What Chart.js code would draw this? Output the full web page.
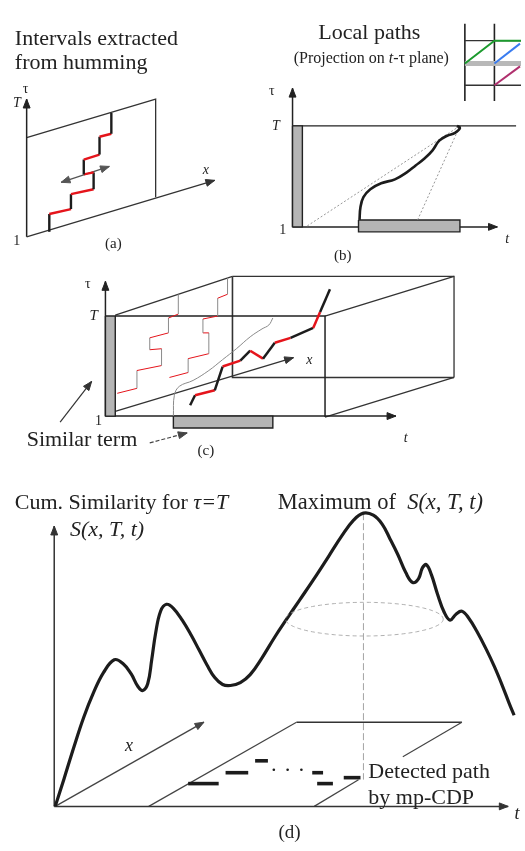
<!DOCTYPE html>
<html>
<head>
<meta charset="utf-8">
<script src="https://cdn.jsdelivr.net/npm/chart.js@4/dist/chart.umd.min.js"></script>
<style>
  html, body { margin: 0; padding: 0; background: #fff; }
  canvas { display: block; }
</style>
</head>
<body>
<canvas id="fig" width="525" height="851"></canvas>
<script>
// Diagram coordinates: x runs 0..525 to the right, y runs 0..851 downward.

// ---- (a) intervals extracted from humming ----
const aTauAxis   = [[23,235],[23,96]];
const aPlaneEdge = [[23,135],[154,96],[154,195]];
const aXAxis     = [[23,235],[214,178]];
const aStairs    = [[46,230],[46,212],[68,207],[68,192],[91,187],[91,170],[81,172],[81,157],[97,152],[97,134],[109,131],[109,110]];
const aShift     = [[58,180],[107,164]];

// ---- (b) local paths, projection on the t-tau plane ----
const bTauAxis  = [[293,225],[293,85]];
const bTimeAxis = [[293,225],[501,225]];
const bTLine    = [[293,123],[520,123]];
const bTauBar   = [[293,123],[303,123],[303,225],[293,225],[293,123]];
const bTermBar  = [[360,218],[463,218],[463,230],[360,230],[360,218]];
const bPath     = [[361,218],[362,205],[365,195],[372,187],[383,181],[397,177],[409,170],[418,163],[427,156],[435,148],[442,138],[450,133],[458,130],[463,125],[460,123]];
const bBound1   = [[308,224],[463,123]];
const bBound2   = [[420,218],[463,123]];
const gridV1    = [[468,20],[468,98]];
const gridV2    = [[498,20],[498,98]];
const gridH1    = [[468,37],[525,37]];
const gridH2    = [[468,60],[525,60]];
const gridH3    = [[468,82],[525,82]];
const pathGreen = [[468,60],[498,37],[525,37]];
const pathBlue  = [[498,60],[524,40]];
const pathPurple= [[498,82],[524,63]];

// ---- (c) similarity volume ----
const cTauAxis  = [[103,416],[103,280]];
const cTimeAxis = [[103,416],[398,416]];
const cTauBar   = [[103,315],[113,315],[113,416],[103,416],[103,315]];
const cFront    = [[113,315],[326,315],[326,417]];
const cTopSlant = [[113,314],[232,275]];
const cBackTop  = [[232,275],[457,275],[457,377]];
const cBackLeft = [[232,275],[232,377],[457,377]];
const cRightTop = [[326,315],[457,275]];
const cRightBot = [[326,417],[457,377]];
const cXAxis    = [[107,413],[294,357]];
const cTermBar  = [[172,416],[273,416],[273,428],[172,428],[172,416]];
const cProj     = [[172,416],[173,395],[178,386],[192,380],[208,370],[222,359],[236,348],[250,336],[262,328],[269,324],[273,317]];
const cStairsL  = [[115,393],[135,388],[135,370],[160,365],[160,348],[148,349],[148,337],[167,332],[167,317],[177,313],[177,293]];
const cStairsR  = [[168,377],[187,372],[187,358],[208,353],[208,332],[202,332],[202,318],[217,315],[217,297],[227,293],[227,276]];
const cPath     = [[189,405],[194,395],[214,390],[222,366],[240,360],[250,350],[263,358],[275,342],[291,337],[314,327],[321,311],[331,288]];
const cPtrBar   = [[57,422],[89,381]];
const cPtrTerm  = [[148,443],[186,433]];

// ---- (d) cumulative similarity for tau = T ----
const dYAxis    = [[51,810],[51,527]];
const dTAxis    = [[51,810],[512,810]];
const dXAxis    = [[52,810],[203,725]];
const dPlaneL   = [[147,810],[297,725]];
const dPlaneTop = [[297,725],[465,725]];
const dPlaneR1  = [[465,725],[405,760]];
const dPlaneR2  = [[360,783],[315,810]];
const dMaxLine  = [[365,514],[365,783]];
const dCurve    = [[52,810],[61,782],[71,750],[81,720],[91,695],[101,675],[112,662],[121,666],[129,676],[136,689],[141,693],[146,686],[150,662],[154,635],[159,613],[165,606],[172,610],[181,622],[190,637],[198,652],[206,667],[214,680],[222,687],[230,688],[240,685],[250,677],[262,660],[275,639],[287,621],[300,602],[317,577],[330,557],[343,537],[355,521],[365,514],[375,516],[384,525],[392,540],[400,556],[408,574],[415,584],[421,580],[425,569],[429,566],[434,576],[440,595],[447,614],[453,622],[459,616],[465,613],[472,620],[480,633],[490,652],[498,669],[506,688],[513,706],[518,718]];
const dDashes   = [[[187,787],[218,787]],[[225,776],[248,776]],[[255,764],[268,764]],[[313,776],[324,776]],[[318,787],[334,787]],[[345,781],[362,781]]];
const dDots     = [[274,773],[288,773],[302,773]];
const dRidge    = {cx:366, cy:621, rx:80, ry:17};

// ---- styles ----
const INK = '#1c1c1c', RED = '#e5141b', GREY = '#8a8a8a', BAR = '#b5b5b5';
const FONT = '"Liberation Serif", "Times New Roman", serif';

// segment colour strings: k = ink, r = red, g = grey
const strokes = [
  // (a)
  {pts:aPlaneEdge, color:'#333', width:1.3},
  {pts:aTauAxis, color:'#222', width:1.5, head:1},
  {pts:aXAxis, color:'#333', width:1.3, head:1},
  {pts:aShift, color:'#555', width:1.3, head:2},
  {pts:aStairs, width:2.4, seg:'krkrkrkrkrk'},
  // (b)
  {pts:gridV1, color:'#222', width:1.6},
  {pts:gridV2, color:'#222', width:1.6},
  {pts:gridH1, color:'#333', width:1.3},
  {pts:gridH2, color:'#b8b8b8', width:5},
  {pts:gridH3, color:'#333', width:1.3},
  {pts:pathGreen, color:'#1c9a2e', width:2},
  {pts:pathBlue, color:'#3a7cf0', width:2},
  {pts:pathPurple, color:'#b0306e', width:2},
  {pts:bTLine, color:'#222', width:1.4},
  {pts:bTimeAxis, color:'#222', width:1.5, head:1},
  {pts:bTauAxis, color:'#222', width:1.5, head:1},
  {pts:bTauBar, color:'#222', width:1.4, fill:BAR},
  {pts:bTermBar, color:'#222', width:1.4, fill:BAR},
  {pts:bBound1, color:'#8c8c8c', width:0.9, dash:[2,2]},
  {pts:bBound2, color:'#8c8c8c', width:0.9, dash:[2,2]},
  {pts:bPath, color:INK, width:2.6, tension:0.4},
  // (c)
  {pts:cTopSlant, color:'#333', width:1.3},
  {pts:cBackTop, color:'#333', width:1.3},
  {pts:cBackLeft, color:'#333', width:1.6},
  {pts:cRightTop, color:'#333', width:1.3},
  {pts:cRightBot, color:'#333', width:1.3},
  {pts:cFront, color:'#222', width:1.5},
  {pts:cTimeAxis, color:'#222', width:1.5, head:1},
  {pts:cTauAxis, color:'#222', width:1.5, head:1},
  {pts:cXAxis, color:'#333', width:1.3, head:1},
  {pts:cTauBar, color:'#222', width:1.4, fill:BAR},
  {pts:cTermBar, color:'#222', width:1.4, fill:BAR},
  {pts:cProj, color:'#8a8a8a', width:1, tension:0.4},
  {pts:cStairsL, width:1, seg:'rgrgrgrgrg'},
  {pts:cStairsR, width:1, seg:'rgrgrgrgrg'},
  {pts:cPath, width:2.5, seg:'krkrkrkrkrk'},
  {pts:cPtrBar, color:'#333', width:1.2, head:1},
  {pts:cPtrTerm, color:'#444', width:1.2, head:1, dash:[4,2]},
  // (d)
  {pts:dPlaneL, color:'#444', width:1.2},
  {pts:dPlaneTop, color:'#333', width:1.4},
  {pts:dPlaneR1, color:'#444', width:1.2},
  {pts:dPlaneR2, color:'#444', width:1.2},
  {pts:dMaxLine, color:'#9a9a9a', width:0.9, dash:[7,3]},
  {pts:dYAxis, color:'#333', width:1.5, head:1},
  {pts:dTAxis, color:'#333', width:1.5, head:1},
  {pts:dXAxis, color:'#444', width:1.3, head:1},
  {pts:dCurve, color:INK, width:3.2, tension:0.4},
];
dDashes.forEach(d => strokes.push({pts:d, color:INK, width:3.6}));

const labels = [
  {t:[['Intervals extracted']], x:11, y:41, size:22},
  {t:[['from humming']], x:11, y:66, size:22},
  {t:[['τ']], x:22, y:90, size:14, align:'center'},
  {t:[['T','i']], x:13, y:104, size:14, align:'center'},
  {t:[['1']], x:13, y:243, size:14, align:'center'},
  {t:[['x','i']], x:205, y:172, size:14, align:'center'},
  {t:[['(a)']], x:111, y:246, size:15, align:'center'},
  {t:[['Local paths']], x:371, y:35, size:22, align:'center'},
  {t:[['(Projection on '],['t','i'],['-τ plane)']], x:373, y:60, size:16, align:'center'},
  {t:[['τ']], x:272, y:92, size:14, align:'center'},
  {t:[['T','i']], x:276, y:127, size:14, align:'center'},
  {t:[['1']], x:283, y:232, size:14, align:'center'},
  {t:[['t','i']], x:511, y:241, size:14, align:'center'},
  {t:[['(b)']], x:344, y:258, size:15, align:'center'},
  {t:[['τ']], x:85, y:287, size:14, align:'center'},
  {t:[['T','i']], x:91, y:319, size:15, align:'center'},
  {t:[['1']], x:96, y:425, size:14, align:'center'},
  {t:[['x','i']], x:310, y:363, size:14, align:'center'},
  {t:[['t','i']], x:408, y:442, size:14, align:'center'},
  {t:[['(c)']], x:205, y:455, size:15, align:'center'},
  {t:[['Similar term']], x:23, y:446, size:22},
  {t:[['Cum. Similarity for '],['τ=T','i']], x:11, y:510, size:22},
  {t:[['S(x, T, t)','i']], x:67, y:537, size:22},
  {t:[['Maximum of  '],['S(x, T, t)','i']], x:278, y:510, size:22.5},
  {t:[['x','i']], x:127, y:754, size:18, align:'center'},
  {t:[['t','i']], x:521, y:823, size:18, align:'center'},
  {t:[['Detected path']], x:370, y:781, size:22},
  {t:[['by mp-CDP']], x:370, y:808, size:22},
  {t:[['(d)']], x:290, y:842, size:19, align:'center'},
];

// ---- dataset construction ----
const P = ([x, y]) => ({x, y});
const segColour = {k: INK, r: RED, g: GREY, ' ': INK};

function arrowHead(from, to, len, half) {
  const dx = to[0] - from[0], dy = to[1] - from[1];
  const n = Math.hypot(dx, dy), ux = dx / n, uy = dy / n;
  const bx = to[0] - ux * len, by = to[1] - uy * len;
  return [to, [bx - uy * half, by + ux * half], [bx + uy * half, by - ux * half], to];
}

const datasets = [];
strokes.forEach(s => {
  const ds = {
    data: s.pts.map(P), showLine: true, pointRadius: 0, pointHitRadius: 0,
    borderColor: s.color || INK, borderWidth: s.width || 1,
    borderDash: s.dash || [], tension: s.tension || 0,
    borderCapStyle: 'butt', borderJoinStyle: 'miter',
    fill: s.fill ? 'shape' : false, backgroundColor: s.fill || 'transparent'
  };
  if (s.seg) {
    const seq = s.seg;
    ds.segment = { borderColor: c => segColour[seq[c.p0DataIndex]] || INK };
    ds.borderJoinStyle = 'round';
  }
  datasets.push(ds);
  const heads = [];
  const n = s.pts.length;
  if (s.head >= 1) heads.push(arrowHead(s.pts[n - 2], s.pts[n - 1], 9, 3.5));
  if (s.head === 2) heads.push(arrowHead(s.pts[1], s.pts[0], 9, 3.5));
  heads.forEach(h => datasets.push({
    data: h.map(P), showLine: true, pointRadius: 0, borderWidth: 1,
    borderColor: s.color || INK, backgroundColor: s.color || INK, fill: 'shape'
  }));
});

// ridge of the maximum, drawn as a dashed ellipse around the peak
const ridge = [];
for (let i = 0; i <= 96; i++) {
  const a = i / 96 * Math.PI * 2;
  ridge.push({x: dRidge.cx + dRidge.rx * Math.cos(a), y: dRidge.cy + dRidge.ry * Math.sin(a)});
}
datasets.push({data: ridge, showLine: true, pointRadius: 0, borderColor: '#a8a8a8', borderWidth: 0.9, borderDash: [4, 3], fill: false});
datasets.push({data: dDots.map(P), showLine: false, pointRadius: 1.3, pointBorderWidth: 0, pointBackgroundColor: INK, backgroundColor: INK});

// later entries are painted on top
datasets.forEach((d, i) => { d.order = datasets.length - i; });

const textPlugin = {
  id: 'figureText',
  afterDatasetsDraw(chart) {
    const {ctx, scales: {x, y}} = chart;
    ctx.save();
    ctx.fillStyle = '#222';
    ctx.textBaseline = 'alphabetic';
    labels.forEach(l => {
      const size = l.size || 14;
      const fontOf = st => (st === 'i' ? 'italic ' : '') + size + 'px ' + FONT;
      let total = 0;
      l.t.forEach(([s, st]) => { ctx.font = fontOf(st); total += ctx.measureText(s).width; });
      let px = x.getPixelForValue(l.x);
      const py = y.getPixelForValue(l.y);
      if (l.align === 'center') px -= total / 2;
      ctx.textAlign = 'left';
      l.t.forEach(([s, st]) => {
        ctx.font = fontOf(st);
        ctx.fillText(s, px, py);
        px += ctx.measureText(s).width;
      });
    });
    ctx.restore();
  }
};

new Chart(document.getElementById('fig'), {
  type: 'scatter',
  data: { datasets },
  options: {
    responsive: false,
    animation: false,
    devicePixelRatio: 1,
    layout: { padding: 0 },
    plugins: { legend: { display: false }, tooltip: { enabled: false }, title: { display: false } },
    events: [],
    scales: {
      x: { type: 'linear', min: 0, max: 525, display: false },
      y: { type: 'linear', min: 0, max: 851, reverse: true, display: false }
    }
  },
  plugins: [textPlugin]
});
</script>
</body>
</html>
